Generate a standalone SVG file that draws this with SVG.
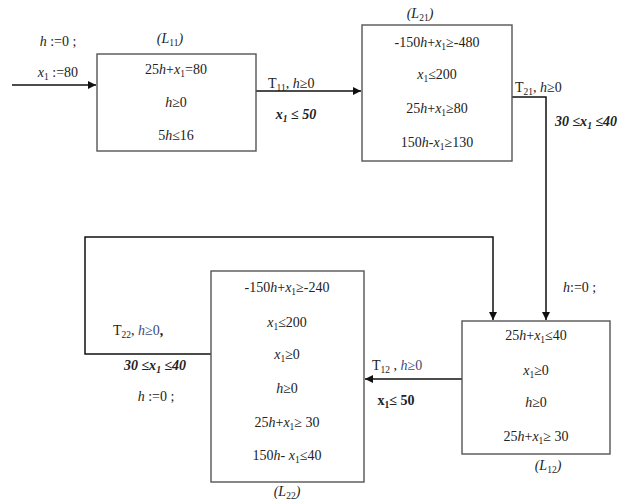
<svg xmlns="http://www.w3.org/2000/svg" width="634" height="501" viewBox="0 0 634 501">
<defs>
<marker id="ah" viewBox="0 0 10 10" refX="10" refY="5" markerWidth="9" markerHeight="8" markerUnits="userSpaceOnUse" orient="auto">
<path d="M0,0 L10,5 L0,10 z" fill="#111"/>
</marker>
<style>
text{font-family:"Liberation Serif","Times New Roman",serif;font-size:14px;fill:#222}
.c{text-anchor:middle}
.i{font-style:italic}
.n{font-style:normal}
.b{font-weight:bold}
.s{font-size:9.5px;baseline-shift:-3px}
.box{fill:#fff;stroke:#555;stroke-width:1.4}
.ln{fill:none;stroke:#111;stroke-width:1.5}
.bl{fill:#3b4a78}
</style>
</defs>
<rect width="634" height="501" fill="#fff"/>

<g id="connectors">
<path class="ln" d="M12,85 H96" marker-end="url(#ah)"/>
<path class="ln" d="M256,91 H361" marker-end="url(#ah)"/>
<path class="ln" d="M512,97 H546 V320" marker-end="url(#ah)"/>
<path class="ln" d="M211,354 H85 V237 H493 V320" marker-end="url(#ah)"/>
<path class="ln" d="M462,379 H365" marker-end="url(#ah)"/>
</g>

<g id="labels">
<text x="58" y="46" class="c"><tspan class="i">h</tspan> :=0 ;</text>
<text x="58" y="77" class="c"><tspan class="i">x</tspan><tspan class="s">1</tspan> :=80</text>
<text x="268" y="88">T<tspan class="s">11</tspan>, <tspan class="i">h</tspan>≥0</text>
<text x="296" y="119" class="c b i">x<tspan class="s">1</tspan> ≤ 50</text>
<text x="515" y="92">T<tspan class="s">21</tspan>, <tspan class="i">h</tspan>≥0</text>
<text x="586" y="126" class="c b i">30 ≤x<tspan class="s">1</tspan> ≤40</text>
<text x="563" y="292"><tspan class="i">h</tspan>:=0 ;</text>
<text x="372" y="370">T<tspan class="s">12</tspan> , <tspan class="i bl">h</tspan><tspan class="bl">≥0</tspan></text>
<text x="396" y="405" class="c b">x<tspan class="s">1</tspan>≤ 50</text>
<text x="113" y="335">T<tspan class="s">22</tspan>, <tspan class="i bl">h</tspan><tspan class="bl">≥0</tspan><tspan class="b">,</tspan></text>
<text x="155" y="370" class="c b i">30 ≤x<tspan class="s">1</tspan> ≤40</text>
<text x="156" y="401" class="c"><tspan class="i">h</tspan> :=0 ;</text>
</g>

<g id="L11">
<rect class="box" x="97" y="54" width="159" height="97"/>
<text x="170" y="43" class="c i">(L<tspan class="s n">11</tspan>)</text>
<text x="176" y="74" class="c">25<tspan class="i">h</tspan>+<tspan class="i">x</tspan><tspan class="s">1</tspan>=80</text>
<text x="176" y="107" class="c"><tspan class="i">h</tspan>≥0</text>
<text x="176" y="140" class="c">5<tspan class="i">h</tspan>≤16</text>
</g>

<g id="L21">
<rect class="box" x="362" y="25" width="150" height="136"/>
<text x="420" y="18" class="c i">(L<tspan class="s n">21</tspan>)</text>
<text x="437" y="47" class="c">-150<tspan class="i">h</tspan>+<tspan class="i">x</tspan><tspan class="s">1</tspan>≥-480</text>
<text x="437" y="79" class="c"><tspan class="i">x</tspan><tspan class="s">1</tspan>≤200</text>
<text x="437" y="113" class="c">25<tspan class="i">h</tspan>+<tspan class="i">x</tspan><tspan class="s">1</tspan>≥80</text>
<text x="437" y="147" class="c">150<tspan class="i">h</tspan>-<tspan class="i">x</tspan><tspan class="s">1</tspan>≥130</text>
</g>

<g id="L12">
<rect class="box" x="462" y="321" width="148" height="133"/>
<text x="548" y="470" class="c i">(L<tspan class="s n">12</tspan>)</text>
<text x="536" y="340" class="c">25<tspan class="i">h</tspan>+<tspan class="i">x</tspan><tspan class="s">1</tspan>≤40</text>
<text x="536" y="375" class="c"><tspan class="i">x</tspan><tspan class="s">1</tspan>≥0</text>
<text x="536" y="407" class="c"><tspan class="i">h</tspan>≥0</text>
<text x="536" y="441" class="c">25<tspan class="i">h</tspan>+<tspan class="i">x</tspan><tspan class="s">1</tspan>≥ 30</text>
</g>

<g id="L22">
<rect class="box" x="211" y="271" width="153" height="211"/>
<text x="287" y="496" class="c i">(L<tspan class="s n">22</tspan>)</text>
<text x="287" y="292" class="c">-150<tspan class="i">h</tspan>+<tspan class="i">x</tspan><tspan class="s">1</tspan>≥-240</text>
<text x="287" y="327" class="c"><tspan class="i">x</tspan><tspan class="s">1</tspan>≤200</text>
<text x="287" y="359" class="c"><tspan class="i">x</tspan><tspan class="s">1</tspan>≥0</text>
<text x="287" y="393" class="c"><tspan class="i">h</tspan>≥0</text>
<text x="287" y="427" class="c">25<tspan class="i">h</tspan>+<tspan class="i">x</tspan><tspan class="s">1</tspan>≥ 30</text>
<text x="287" y="460" class="c">150<tspan class="i">h</tspan>- <tspan class="i">x</tspan><tspan class="s">1</tspan>≤40</text>
</g>
</svg>
